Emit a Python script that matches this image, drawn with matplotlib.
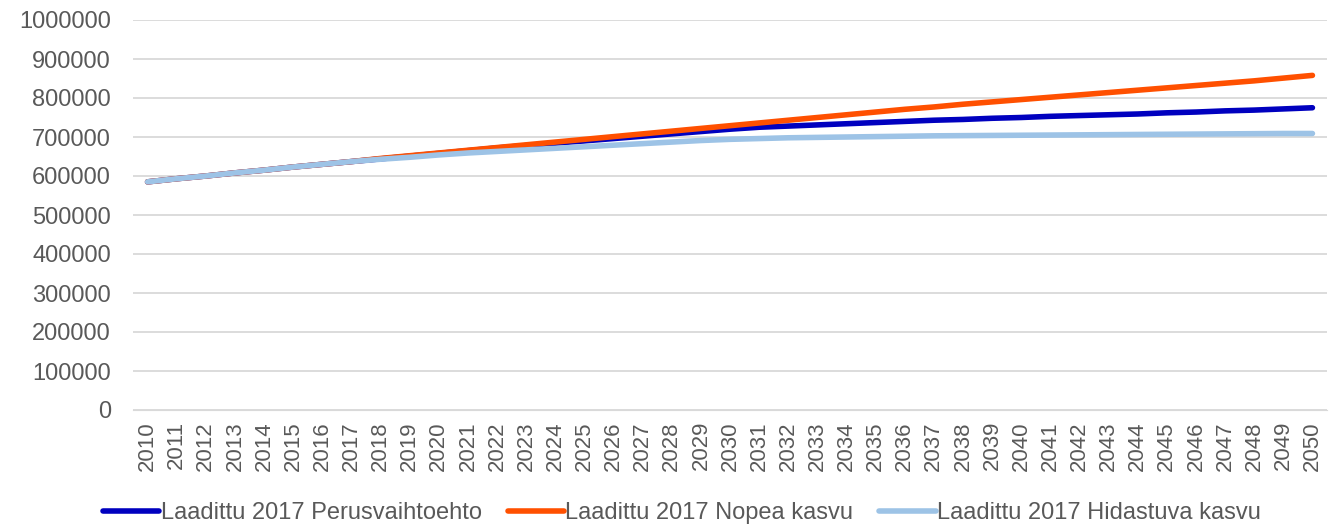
import matplotlib
matplotlib.use("Agg")
from matplotlib import pyplot as plt
from matplotlib.ticker import FuncFormatter

plt.rcParams['font.family'] = ['Liberation Sans', 'DejaVu Sans']

years = list(range(2010, 2051))

# Laadittu 2017 Perusvaihtoehto
perus = [585000, 593000, 600000, 608000, 615000, 623000, 630000, 637000, 644000, 651000,
         658000, 665000, 672000, 678000, 684000, 690000, 696000, 702000, 708000, 714000,
         720000, 725000, 728000, 731000, 734000, 737000, 740000, 743000, 745000, 748000,
         750000, 753000, 755000, 757000, 759000, 762000, 764000, 767000, 769000, 772000,
         775000]
# Laadittu 2017 Nopea kasvu
nopea = [585000, 593000, 600000, 608000, 615000, 623000, 630000, 637000, 645000, 652000,
         659000, 666000, 673000, 680000, 687000, 694000, 701000, 708000, 715000, 722000,
         729000, 736000, 743000, 750000, 757000, 764000, 771000, 777000, 784000, 790000,
         796000, 802000, 808000, 814000, 820000, 826000, 832000, 838000, 844000, 851000,
         858000]
# Laadittu 2017 Hidastuva kasvu
hidas = [585000, 593000, 600000, 608000, 615000, 623000, 630000, 637000, 643000, 648000,
         654000, 659000, 663000, 667000, 671000, 675000, 679000, 683000, 687000, 691000,
         694000, 696000, 698000, 699000, 700000, 701000, 702000, 703000, 703500, 704000,
         704500, 705000, 705500, 706000, 706500, 707000, 707500, 708000, 708500, 709000,
         709000]

fig = plt.figure(figsize=(13.37, 5.26), dpi=100)
ax = fig.add_axes([133/1337, 116/526, (1327-133)/1337, 390/526])

lw = 4
ax.plot(years, perus, color='#0000BF', lw=lw, solid_capstyle='round', label='Laadittu 2017 Perusvaihtoehto')
ax.plot(years, nopea, color='#FF5000', lw=lw, solid_capstyle='round', label='Laadittu 2017 Nopea kasvu')
ax.plot(years, hidas, color='#9DC3E6', lw=lw, solid_capstyle='round', label='Laadittu 2017 Hidastuva kasvu')

ax.set_xlim(2009.5, 2050.5)
ax.set_ylim(0, 1000000)
ax.set_yticks(range(0, 1000001, 100000))
ax.yaxis.set_major_formatter(FuncFormatter(lambda v, p: '%d' % v))
ax.set_xticks(years)
ax.set_xticklabels([str(y) for y in years], rotation=90)
ax.grid(axis='y', color='#d9d9d9', lw=1.3)
ax.set_axisbelow(True)
for s in ax.spines.values():
    s.set_visible(False)
ax.spines['bottom'].set_visible(True)
ax.spines['bottom'].set_color('#d9d9d9')
ax.tick_params(axis='both', length=0, labelsize=16, labelcolor='#595959')
ax.tick_params(axis='y', pad=16, labelsize=17)
ax.tick_params(axis='x', pad=8)

fig.legend(loc='center', bbox_to_anchor=(0.51, 0.024), ncol=3, frameon=False,
           fontsize=17, labelcolor='#595959', handlelength=2.4, handletextpad=0.05,
           columnspacing=1.1)

fig.savefig('out.png', dpi=100)
